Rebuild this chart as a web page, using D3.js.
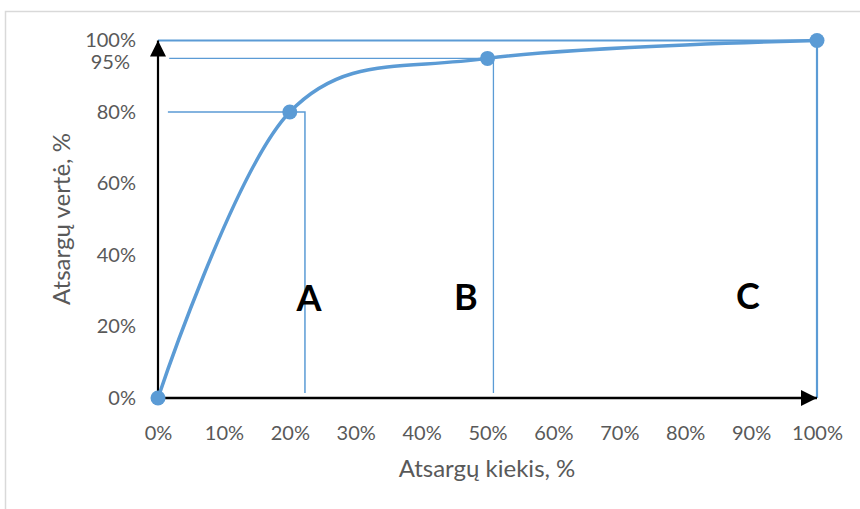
<!DOCTYPE html>
<html>
<head>
<meta charset="utf-8">
<script src="https://cdn.jsdelivr.net/npm/d3@7"></script>
<style>
  html, body { margin: 0; padding: 0; background: #fff; }
  svg { display: block; }
  text { font-family: Lato, "Open Sans", sans-serif; }
</style>
</head>
<body>
<svg id="chart" width="860" height="509"></svg>
<script>
// ABC analysis curve: cumulative value share vs. cumulative quantity share
const curveX = [0, 20, 50, 100];          // Atsargų kiekis, %
const curveY = [0, 80, 95, 100];          // Atsargų vertė, %

// Guide lines marking the class boundaries (quantity %, value %)
const guide80  = [[1.5, 80], [22.3, 80], [22.3, 1.4]];
const guide95  = [[1.7, 95], [50.9, 95], [50.9, 1.4]];
const guide100 = [[0, 100], [100, 100], [100, 0]];

// Class labels and where they sit on the plot
const zoneNames = ["A", "B", "C"];
const zoneX = [22.9, 46.7, 89.5];
const zoneY = [24.4, 24.7, 25.0];

const xTicks = [0, 10, 20, 30, 40, 50, 60, 70, 80, 90, 100];
const yTicks = [0, 20, 40, 60, 80, 100];
const extraYTick = 95;

const xTitle = "Atsargų kiekis, %";
const yTitle = "Atsargų vertė, %";

const blue = "#5B9BD5";
const gray = "#595959";

const svg = d3.select("#chart");

// outer chart frame
svg.append("rect")
  .attr("x", 5.5).attr("y", 11.5)
  .attr("width", 880).attr("height", 520)
  .attr("fill", "none")
  .attr("stroke", "#d9d9d9")
  .attr("stroke-width", 1.5);

const x = d3.scaleLinear().domain([0, 100]).range([158, 817]);
const y = d3.scaleLinear().domain([0, 100]).range([398, 40.5]);

const fmt = d => d + "%";

// tick labels via axis generators (lines hidden, labels only)
const xAxis = svg.append("g")
  .attr("transform", `translate(0,${y(0)})`)
  .call(d3.axisBottom(x).tickValues(xTicks).tickFormat(fmt).tickSize(0).tickPadding(28));
xAxis.select(".domain").remove();
xAxis.selectAll("text")
  .attr("fill", gray).attr("font-size", 20).attr("font-family", "Lato, sans-serif");

const yAxis = svg.append("g")
  .attr("transform", `translate(${x(0)},0)`)
  .call(d3.axisLeft(y).tickValues(yTicks).tickFormat(fmt).tickSize(0).tickPadding(22));
yAxis.select(".domain").remove();
yAxis.selectAll("text")
  .attr("fill", gray).attr("font-size", 20).attr("font-family", "Lato, sans-serif");

// extra 95% label beside the 95% guide
svg.append("text")
  .attr("x", x(0) - 28).attr("y", y(extraYTick) + 4)
  .attr("dy", "0.32em")
  .attr("text-anchor", "end")
  .attr("fill", gray).attr("font-size", 20)
  .text(fmt(extraYTick));

// axis titles
svg.append("text")
  .attr("x", 487).attr("y", 469)
  .attr("dy", "0.32em")
  .attr("text-anchor", "middle")
  .attr("fill", gray).attr("font-size", 24)
  .text(xTitle);

svg.append("text")
  .attr("transform", "translate(62,219) rotate(-90)")
  .attr("dy", "0.32em")
  .attr("text-anchor", "middle")
  .attr("fill", gray).attr("font-size", 24)
  .text(yTitle);

// guide lines
const guideLine = d3.line().x(d => x(d[0])).y(d => y(d[1]));
[[guide80, 1.5], [guide95, 1.3], [guide100, 2.2]].forEach(([g, w]) => {
  svg.append("path")
    .attr("d", guideLine(g))
    .attr("fill", "none")
    .attr("stroke", blue)
    .attr("stroke-width", w);
});

// arrow axes
const defs = svg.append("defs");
defs.append("marker")
  .attr("id", "arrow")
  .attr("viewBox", "0 0 16 16")
  .attr("refX", 16).attr("refY", 8)
  .attr("markerWidth", 16).attr("markerHeight", 16)
  .attr("markerUnits", "userSpaceOnUse")
  .attr("orient", "auto")
  .append("path")
  .attr("d", "M0,0 L16,8 L0,16 Z")
  .attr("fill", "#000");

svg.append("line")
  .attr("x1", x(0)).attr("y1", y(0))
  .attr("x2", x(0)).attr("y2", y(100))
  .attr("stroke", "#000").attr("stroke-width", 2.2)
  .attr("marker-end", "url(#arrow)");

svg.append("line")
  .attr("x1", x(0)).attr("y1", y(0))
  .attr("x2", x(100)).attr("y2", y(0))
  .attr("stroke", "#000").attr("stroke-width", 2.5)
  .attr("marker-end", "url(#arrow)");

// smoothed cumulative curve
const pts = curveX.map((v, i) => [v, curveY[i]]);
svg.append("path")
  .attr("d", d3.line().x(d => x(d[0])).y(d => y(d[1])).curve(d3.curveCardinal.tension(0))(pts))
  .attr("fill", "none")
  .attr("stroke", blue)
  .attr("stroke-width", 3.5)
  .attr("stroke-linecap", "round");

svg.selectAll("circle.pt")
  .data(pts)
  .enter().append("circle")
  .attr("class", "pt")
  .attr("cx", d => x(d[0])).attr("cy", d => y(d[1]))
  .attr("r", 7.5)
  .attr("fill", blue);

// class labels
svg.selectAll("text.zone")
  .data(zoneNames)
  .enter().append("text")
  .attr("class", "zone")
  .attr("x", (d, i) => x(zoneX[i]))
  .attr("y", (d, i) => y(zoneY[i]))
  .attr("text-anchor", "middle")
  .attr("font-size", 36)
  .attr("font-weight", "bold")
  .attr("fill", "#000")
  .text(d => d);
</script>
</body>
</html>
